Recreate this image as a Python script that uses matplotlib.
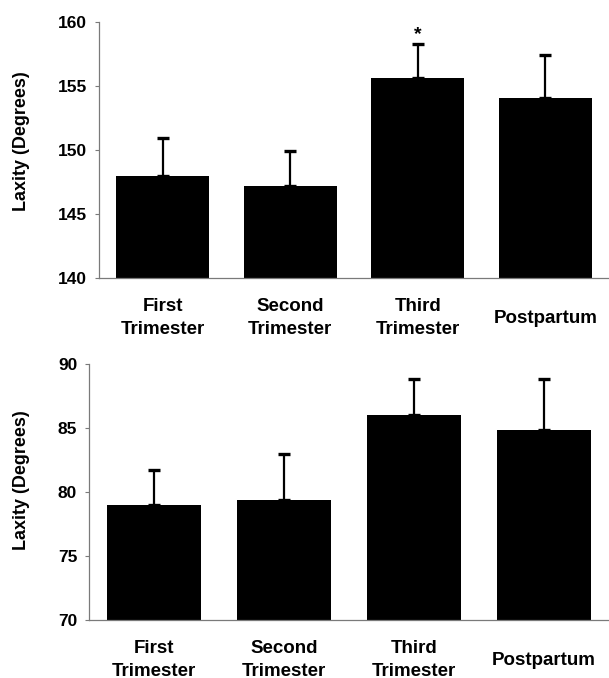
import numpy as np
import matplotlib
matplotlib.use("Agg")
import matplotlib.pyplot as plt

# ---------------------------------- data ----------------------------------
categories = ["First\nTrimester", "Second\nTrimester", "Third\nTrimester", "Postpartum"]

top_means = [148.0, 147.2, 155.65, 154.1]
top_err = [2.9, 2.7, 2.65, 3.3]

bottom_means = [79.0, 79.4, 86.0, 84.85]
bottom_err = [2.75, 3.6, 2.8, 3.95]

top_ticks = [140, 145, 150, 155, 160]
bottom_ticks = [70, 75, 80, 85, 90]

ylabel = "Laxity (Degrees)"
sig_marker = "*"
sig_index = 2
sig_y = 159.0

plt.rcParams['font.family'] = ['Liberation Sans', 'DejaVu Sans']
plt.rcParams['font.weight'] = 'bold'

GRAY = "#7a7a7a"


def draw_panel(ax, means, errs, ticks):
    x = np.arange(len(categories))
    ax.bar(x, means, width=0.73, color="black", bottom=0, zorder=2)
    ax.errorbar(x, means, yerr=[np.zeros(len(errs)), errs], fmt="none",
                ecolor="black", elinewidth=1.6, capsize=4.3, capthick=2.4, zorder=3)
    ax.set_xlim(-0.5, len(categories) - 0.5)
    ax.set_ylim(ticks[0], ticks[-1])
    ax.set_yticks(ticks)
    ax.set_yticklabels([str(t) for t in ticks], fontsize=12.5, fontweight="bold")
    ax.set_xticks(x)
    ax.set_xticklabels(categories, fontsize=13.5, fontweight="bold", linespacing=1.45)
    for lbl in ax.get_xticklabels():
        lbl.set_verticalalignment("center")
    ax.tick_params(axis="x", length=0, pad=29)
    ax.tick_params(axis="y", length=3, width=0.8, color=GRAY, pad=5.5)
    for side in ["top", "right"]:
        ax.spines[side].set_visible(False)
    for side in ["left", "bottom"]:
        ax.spines[side].set_color(GRAY)
        ax.spines[side].set_linewidth(0.9)
    ax.set_ylabel(ylabel, fontsize=13, fontweight="bold")


fig = plt.figure(figsize=(6.09, 6.78), dpi=100)

ax1 = fig.add_axes([99 / 609, 1 - 278 / 678, 510 / 609, 256 / 678])
draw_panel(ax1, top_means, top_err, top_ticks)
ax1.yaxis.set_label_coords(-0.135, 0.535)
ax1.text(sig_index, sig_y, sig_marker, ha="center", va="center",
         fontsize=14, fontweight="bold")

ax2 = fig.add_axes([89 / 609, 1 - 620 / 678, 520 / 609, 256 / 678])
draw_panel(ax2, bottom_means, bottom_err, bottom_ticks)
ax2.yaxis.set_label_coords(-0.113, 0.545)

fig.savefig("out.png", dpi=100)
